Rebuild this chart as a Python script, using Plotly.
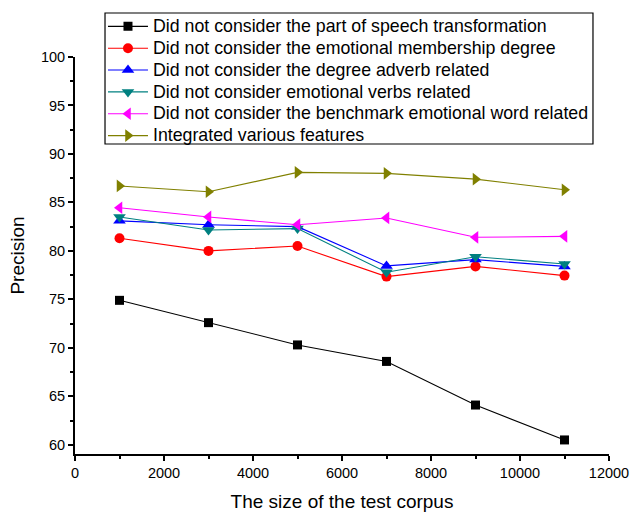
import plotly.graph_objects as go

corpus_size = [1000, 3000, 5000, 7000, 9000, 11000]
no_pos = [74.9, 72.6, 70.3, 68.6, 64.1, 60.5]
no_membership = [81.3, 80.0, 80.5, 77.35, 78.4, 77.45]
no_adverb = [83.1, 82.7, 82.5, 78.45, 79.1, 78.4]
no_verbs = [83.5, 82.15, 82.3, 77.8, 79.4, 78.65]
no_benchmark = [84.45, 83.5, 82.7, 83.4, 81.4, 81.5]
integrated = [86.7, 86.1, 88.1, 88.0, 87.4, 86.3]

names = [
    "Did not consider the part of speech transformation",
    "Did not consider the emotional membership degree",
    "Did not consider the degree adverb related",
    "Did not consider emotional verbs related",
    "Did not consider the benchmark emotional word related",
    "Integrated various features",
]
series = [no_pos, no_membership, no_adverb, no_verbs, no_benchmark, integrated]
colors = ["#000000", "#ff0000", "#0000ff", "#008080", "#ff00ff", "#808000"]
symbols = ["square", "circle", "triangle-up", "triangle-down", "triangle-left", "triangle-right"]
sizes = [9, 10, 11, 11, 11, 11]

FONT = "Liberation Sans, Arial"

fig = go.Figure()
for n, s, c, sym, sz in zip(names, series, colors, symbols, sizes):
    fig.add_trace(go.Scatter(
        x=corpus_size, y=s, mode="lines+markers",
        name="<span style='font-size:17.75px'>" + n + "</span>",
        line=dict(color=c, width=1.1),
        marker=dict(symbol=sym, size=sz, color=c),
    ))

axis_common = dict(
    showline=True, linecolor="black", linewidth=1.8,
    ticks="outside", ticklen=5, tickwidth=1.5, tickcolor="black",
    showgrid=False, zeroline=False, automargin=False,
    tickfont=dict(family=FONT, size=14.5, color="black"),
    mirror=False,
)
fig.update_xaxes(
    range=[0, 12000], dtick=2000, tick0=0, tickformat="d",
    minor=dict(ticks="outside", ticklen=3, tickwidth=1.5, tickcolor="black", dtick=1000),
    title=dict(text="The size of the test corpus", font=dict(family=FONT, size=19, color="black"), standoff=14),
    **axis_common,
)
fig.update_yaxes(
    range=[59.05, 100], dtick=5, tick0=60,
    minor=dict(ticks="outside", ticklen=3, tickwidth=1.5, tickcolor="black", dtick=2.5),
    title=dict(text="Precision", font=dict(family=FONT, size=19, color="black"), standoff=11),
    **axis_common,
)
# legend frame drawn as a layout rectangle (paper coordinates)
fig.add_shape(type="rect", xref="paper", yref="paper",
              x0=0.0562, x1=0.970, y0=0.7809, y1=1.1108,
              line=dict(color="black", width=1.2), fillcolor="rgba(0,0,0,0)", layer="above")
fig.update_layout(
    width=630, height=512,
    margin=dict(l=75, r=21, t=57, b=58, autoexpand=False),
    plot_bgcolor="white", paper_bgcolor="white",
    font=dict(family=FONT, color="black"),
    legend=dict(
        x=0.0524, y=1.1173, xanchor="left", yanchor="top",
        borderwidth=0, bgcolor="rgba(0,0,0,0)",
        font=dict(family=FONT, size=14.5, color="black"),
        tracegroupgap=0, itemwidth=40,
    ),
)
fig.write_html("out.html", config={"displayModeBar": False},
               post_script="document.body.style.margin='0px';")
